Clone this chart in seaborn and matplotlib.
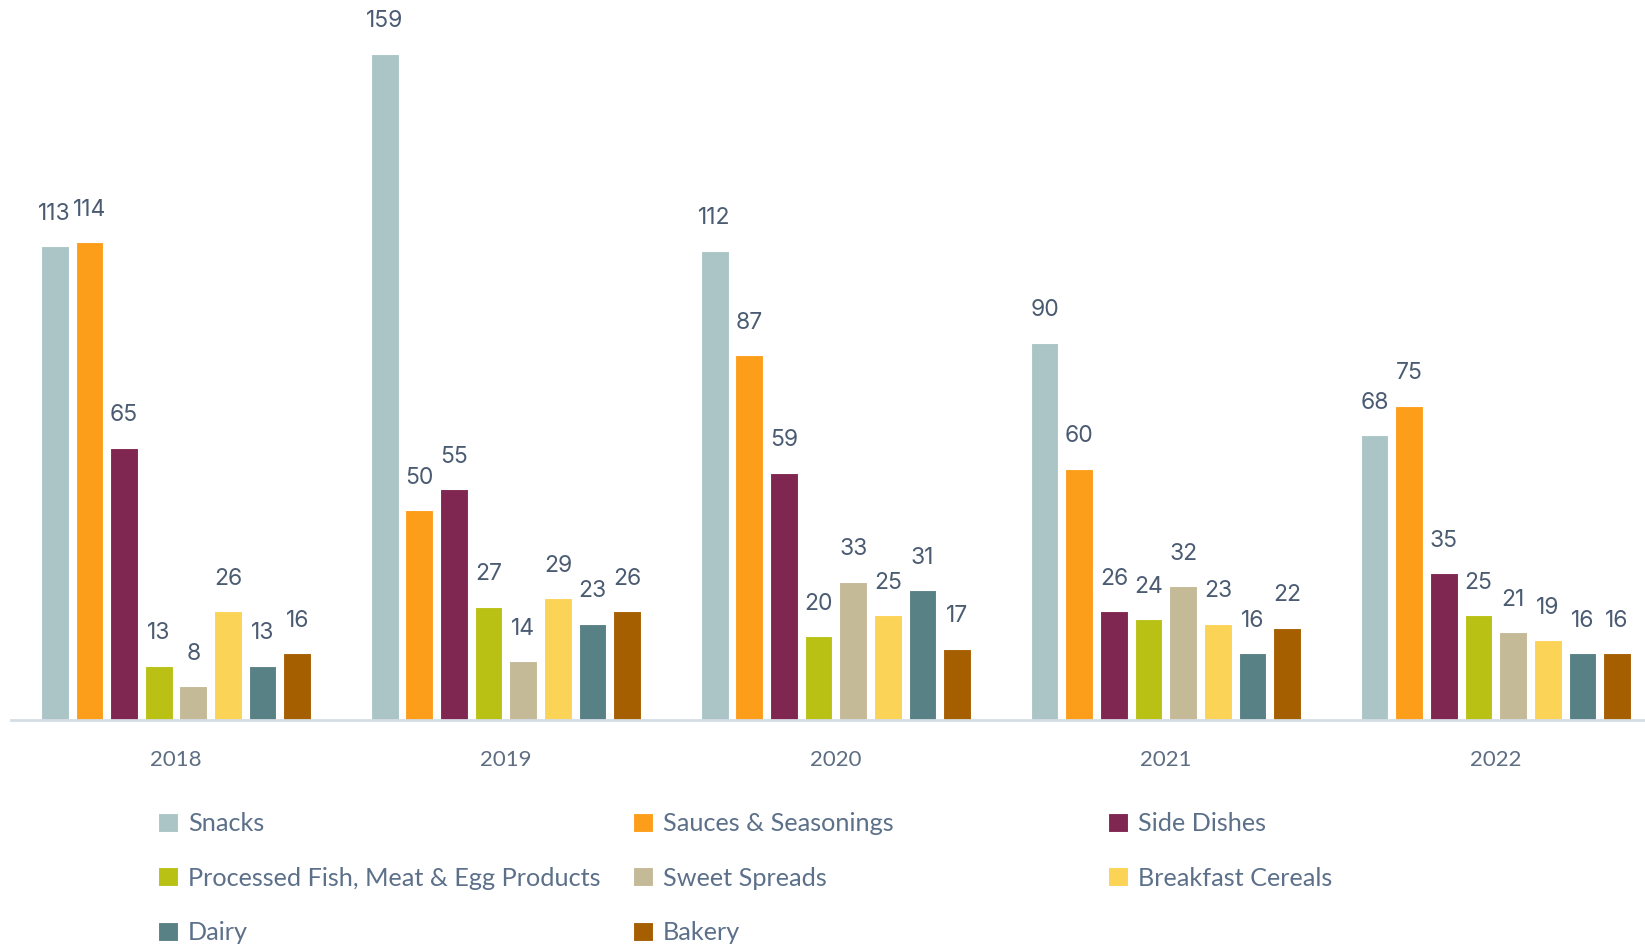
import pandas as pd
import matplotlib.pyplot as plt
import seaborn as sns

# === Andmed ===
years = ["2018", "2019", "2020", "2021", "2022"]
categories = ["Snacks", "Sauces & Seasonings", "Side Dishes",
              "Processed Fish, Meat & Egg Products", "Sweet Spreads",
              "Breakfast Cereals", "Dairy", "Bakery"]
snacks = [113, 159, 112, 90, 68]
sauces = [114, 50, 87, 60, 75]
side_dishes = [65, 55, 59, 26, 35]
processed = [13, 27, 20, 24, 25]
sweet_spreads = [8, 14, 33, 32, 21]
cereals = [26, 29, 25, 23, 19]
dairy = [13, 23, 31, 16, 16]
bakery = [16, 26, 17, 22, 16]
colors = ["#abc5c7", "#fd9e1b", "#7f2751", "#b9c115",
          "#c4ba98", "#fbd356", "#578184", "#a65f00"]

series = [snacks, sauces, side_dishes, processed, sweet_spreads, cereals, dairy, bakery]
rows = []
for cat, vals in zip(categories, series):
    for y, v in zip(years, vals):
        rows.append({"year": y, "category": cat, "value": v})
df = pd.DataFrame(rows)

sns.set_style("white")
plt.rcParams['font.family'] = ['Lato', 'DejaVu Sans']

fig = plt.figure(figsize=(16.45, 9.49), dpi=100)
ax = fig.add_axes([11 / 1645, 229 / 949, 1 - 11 / 1645, 720 / 949])

sns.barplot(data=df, x="year", y="value", hue="category", order=years,
            hue_order=categories, palette=colors, saturation=1,
            width=0.84, gap=0.2, edgecolor="white", linewidth=0.8, ax=ax)

# väärtused tulpade kohale
for cont in ax.containers:
    for bar in cont:
        h = bar.get_height()
        ax.annotate(f"{h:.0f}", (bar.get_x() + bar.get_width() / 2, h),
                    xytext=(0, 19), textcoords="offset points",
                    ha="center", va="baseline", fontsize=16.5,
                    family=["Inter", "DejaVu Sans"], color="#4a5b72")

ax.set_xlim(-0.5, 4.452)
ax.set_ylim(0, 171.8)
ax.set_xlabel("")
ax.set_ylabel("")
ax.set_yticks([])
ax.tick_params(axis="x", length=0, pad=21.5, labelsize=16, labelcolor="#5d6d82")
for s in ["top", "right", "left"]:
    ax.spines[s].set_visible(False)
ax.spines["bottom"].set_color("#d5dde6")
ax.spines["bottom"].set_linewidth(2)

handles, labels = ax.get_legend_handles_labels()
ax.get_legend().remove()

# legend: kolm veergu kindlatel kohtadel
col_groups = [[0, 3, 6], [1, 4, 7], [2, 5]]
col_x = [158 / 1645, 633 / 1645, 1108 / 1645]
for idx, x0 in zip(col_groups, col_x):
    fig.legend([handles[i] for i in idx], [labels[i] for i in idx],
               loc="upper left", bbox_to_anchor=(x0, 1 - 812 / 949),
               frameon=False, fontsize=18.2, labelcolor="#5c708a",
               handlelength=0.8, handleheight=0.8, handletextpad=0.38,
               labelspacing=1.25, borderaxespad=0, borderpad=0)

plt.savefig("out.png", dpi=100)
